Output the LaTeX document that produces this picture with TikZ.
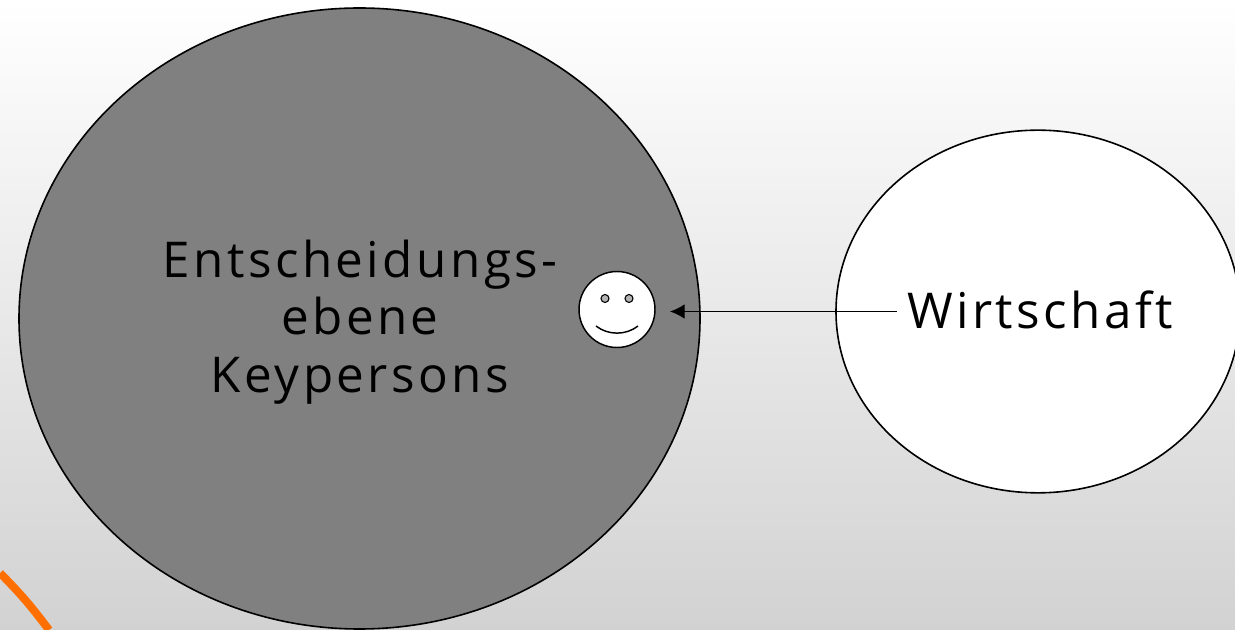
\documentclass[tikz,border=0pt]{standalone}
\usepackage{fontspec}
\setmainfont{Open Sans}[LetterSpace=7]
\usetikzlibrary{shapes.geometric,arrows.meta}
\definecolor{kreisgrau}{HTML}{808080}
\definecolor{randorange}{HTML}{FF6F00}
\definecolor{mittegrau}{HTML}{F1F1F1}
\definecolor{untengrau}{HTML}{D2D2D2}
\tikzset{
    kreis/.style={draw=black, line width=1.2pt, ellipse, inner sep=0pt},
    auge/.style={circle, draw=black, line width=0.8pt, fill=black!30, minimum size=6pt, inner sep=0pt},
    beschriftung/.style={align=center, font=\fontsize{37}{43}\selectfont},
}
\begin{document}
\begin{tikzpicture}[x=0.75pt, y=-0.75pt, >={Latex[length=11pt,width=11pt]}]
    \useasboundingbox (0,0) rectangle (1235,630);
    \clip (0,0) rectangle (1235,630);
    \shade[top color=white, middle color=mittegrau, bottom color=untengrau] (0,0) rectangle (1235,630);

    \coordinate (ecke) at (0,573);
    \coordinate (ende) at (49,630);
    \draw[randorange, line width=6pt] (ecke) to[bend left=4] (ende);

    \node[kreis, fill=kreisgrau, minimum width=510.75pt, minimum height=465.75pt] (entscheidung) at (359.5,318.5) {};
    \node[kreis, fill=white, minimum width=303pt, minimum height=272pt] (wirtschaftkreis) at (1038,311.5) {};
    \node[beschriftung] (keypersons) at (360,322) {Entscheidungs-\\ebene\\Keypersons};
    \node[beschriftung, inner xsep=7.5pt] (wirtschaft) at (1040,310) {Wirtschaft};

    \node[circle, draw=black, line width=1.1pt, fill=white, minimum size=57pt, inner sep=0pt] (smiley) at (617,309.5) {};
    \node[auge] (augelinks) at (605,298.5) {};
    \node[auge] (augerechts) at (629,298.5) {};
    \coordinate (mundlinks) at (596,326);
    \coordinate (mundrechts) at (638,326);
    \draw[line width=1.1pt] (mundlinks) .. controls (608,335.5) and (626,335.5) .. (mundrechts);

    \coordinate (spitze) at (670,311.5);
    \draw[->, line width=1pt] (wirtschaft.west |- spitze) -- (spitze);
\end{tikzpicture}
\end{document}
